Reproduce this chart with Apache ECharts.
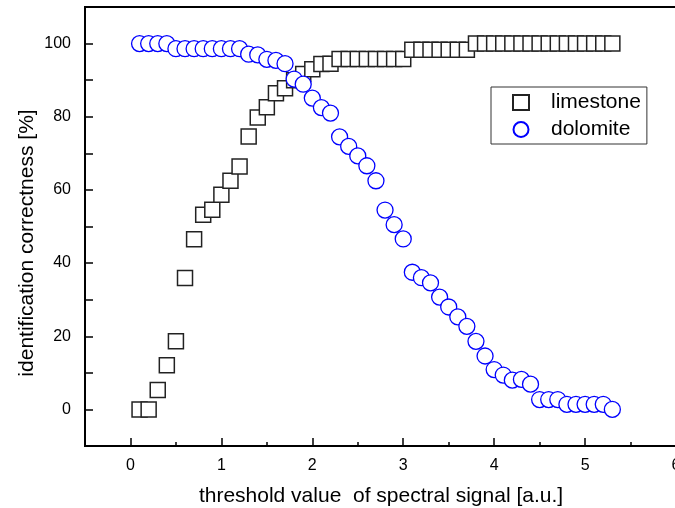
<!DOCTYPE html>
<html>
<head>
<meta charset="utf-8">
<script src="https://cdn.jsdelivr.net/npm/echarts@6/dist/echarts.min.js"></script>
<style>
html,body{margin:0;padding:0;background:#fff;}
#c{width:675px;height:508px;}
</style>
</head>
<body>
<div id="c"></div>
<script>
// x values (threshold) shared by both series
var thresholds = [0.1,0.2,0.3,0.4,0.5,0.6,0.7,0.8,0.9,1.0,1.1,1.2,1.3,1.4,1.5,1.6,1.7,1.8,1.9,2.0,
  2.1,2.2,2.3,2.4,2.5,2.6,2.7,2.8,2.9,3.0,3.1,3.2,3.3,3.4,3.5,3.6,3.7,3.8,3.9,4.0,
  4.1,4.2,4.3,4.4,4.5,4.6,4.7,4.8,4.9,5.0,5.1,5.2,5.3];
var limestone = [0,0,5.3,12.1,18.6,35.9,46.5,53.2,54.6,58.7,62.5,66.4,74.6,79.8,82.6,86.4,87.8,90.0,91.7,93.0,
  94.4,94.5,95.8,95.8,95.8,95.8,95.8,95.8,95.8,95.8,98.3,98.3,98.3,98.3,98.3,98.3,98.3,100,100,100,
  100,100,100,100,100,100,100,100,100,100,100,100,100];
var dolomite = [100,100,100,100,98.6,98.6,98.6,98.6,98.6,98.6,98.6,98.6,97.1,96.9,95.7,95.4,94.5,90.3,88.9,85.1,
  82.5,81.0,74.5,71.9,69.3,66.6,62.5,54.5,50.5,46.6,37.5,36.0,34.6,30.7,28.0,25.3,22.7,18.6,14.6,10.9,
  9.4,8.0,8.2,6.9,2.7,2.7,2.7,1.4,1.4,1.4,1.4,1.4,0];
var xTickLabels = ['0','1','2','3','4','5','6'];
var yTickLabels = ['0','20','40','60','80','100'];
var seriesNames = ['limestone','dolomite'];
var xTitle = 'threshold value  of spectral signal [a.u.]';
var yTitle = 'identification correctness [%]';

function pairs(xs, ys){ return xs.map(function(x,i){ return [x, ys[i]]; }); }

var FONT = '"Liberation Sans", Arial, Helvetica, sans-serif';
var chart = echarts.init(document.getElementById('c'), null, {renderer:'canvas'});
var GL = 85, GR = -1, GT = 7, GB = 62;
var plotW = 675 - GL - GR;
var gl2 = GL + plotW * 0.5 / 6.5;

chart.setOption({
  animation:false,
  backgroundColor:'#fff',
  textStyle:{fontFamily:FONT},
  grid:[
    {left:GL, right:GR, top:GT, bottom:GB, show:true, borderColor:'#000', borderWidth:2, backgroundColor:'transparent', containLabel:false, outerBoundsMode:'none'},
    {left:gl2, right:GR, top:GT, bottom:GB, show:false, containLabel:false, outerBoundsMode:'none'}
  ],
  xAxis:[
    {type:'value', gridIndex:0, min:-0.5, max:6, interval:0.5,
     axisLine:{show:true, onZero:false, lineStyle:{color:'#000', width:2}},
     axisTick:{show:true, inside:true, length:4, lineStyle:{color:'#000', width:1.5}},
     splitLine:{show:false},
     axisLabel:{show:true, margin:12, color:'#000', fontSize:16, fontFamily:FONT, hideOverlap:false,
       formatter:function(v){ var s=String(Math.round(v)); return (Math.abs(v-Math.round(v))<1e-6 && xTickLabels.indexOf(s)>=0)?s:''; }}
    },
    {type:'value', gridIndex:1, min:0, max:6, interval:1,
     axisLine:{show:false, onZero:false},
     axisTick:{show:true, inside:true, length:8, lineStyle:{color:'#000', width:1.5}},
     splitLine:{show:false}, axisLabel:{show:false}
    }
  ],
  yAxis:[
    {type:'value', gridIndex:0, min:-10, max:110, interval:10,
     axisLine:{show:true, onZero:false, lineStyle:{color:'#000', width:2}},
     axisTick:{show:true, inside:true, length:8, lineStyle:{color:'#000', width:1.5}},
     splitLine:{show:false},
     axisLabel:{show:true, margin:14, color:'#000', fontSize:16, fontFamily:FONT,
       formatter:function(v){ var s=String(Math.round(v)); return yTickLabels.indexOf(s)>=0 && Math.abs(v-Math.round(v))<1e-6 ? s : ''; }}
    },
    {type:'value', gridIndex:1, min:-10, max:110, show:false}
  ],
  legend:{
    orient:'vertical', left:491, top:87,
    data:seriesNames,
    itemWidth:16, itemHeight:15, itemGap:6,
    padding:[5,6,4,21],
    borderColor:'#333', borderWidth:1, backgroundColor:'#fff',
    textStyle:{fontSize:21, color:'#000', fontFamily:FONT, padding:[0,0,0,17]}
  },
  graphic:[
    {type:'text', x:27, y:243, rotation:Math.PI/2,
     style:{text:yTitle, fill:'#000', font:'21px ' + FONT, textAlign:'center', textVerticalAlign:'middle'}},
    {type:'text', x:381, y:496,
     style:{text:xTitle, fill:'#000', font:'21px ' + FONT, textAlign:'center', textVerticalAlign:'middle'}}
  ],
  series:[
    {name:seriesNames[0], type:'scatter', xAxisIndex:0, yAxisIndex:0, symbol:'rect', symbolSize:15,
     itemStyle:{color:'#fff', borderColor:'#222', borderWidth:1.5, opacity:1},
     data:pairs(thresholds, limestone), z:2},
    {name:seriesNames[1], type:'scatter', xAxisIndex:0, yAxisIndex:0, symbol:'circle', symbolSize:16,
     itemStyle:{color:'#fff', borderColor:'#0000ff', borderWidth:1.3, opacity:1},
     data:pairs(thresholds, dolomite), z:3}
  ]
});
</script>
</body>
</html>
